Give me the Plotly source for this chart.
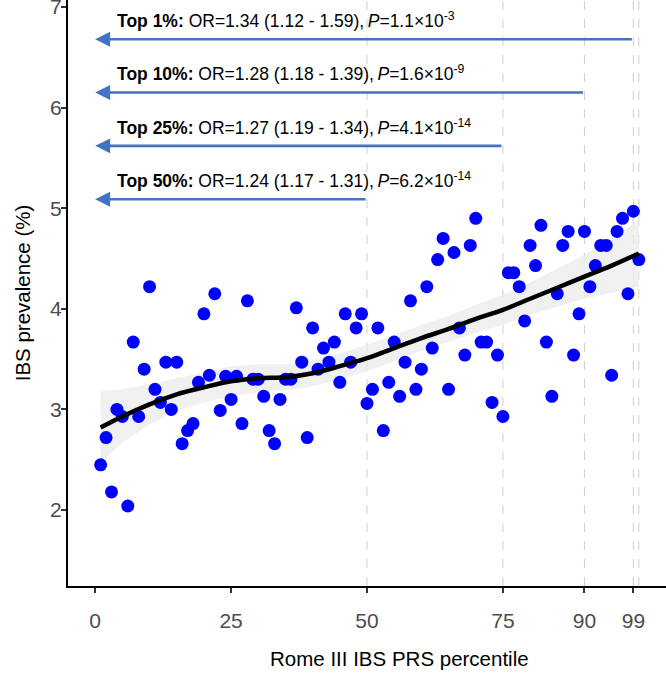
import plotly.graph_objects as go

# ---- data ----
percentile = list(range(1, 101))
prevalence = [
    2.45, 2.72, 2.18, 3.00, 2.93, 2.04, 3.67, 2.93, 3.40, 4.22,
    3.20, 3.07, 3.47, 3.00, 3.47, 2.66, 2.79, 2.86, 3.27, 3.95,
    3.34, 4.15, 2.99, 3.33, 3.10, 3.33, 2.86, 4.08, 3.30, 3.30,
    3.13, 2.79, 2.66, 3.10, 3.30, 3.30, 4.01, 3.47, 2.72, 3.81,
    3.40, 3.61, 3.47, 3.67, 3.27, 3.95, 3.47, 3.81, 3.95, 3.06,
    3.20, 3.81, 2.79, 3.27, 3.67, 3.13, 3.47, 4.08, 3.20, 3.40,
    4.22, 3.61, 4.49, 4.70, 3.20, 4.56, 3.81, 3.54, 4.63, 4.90,
    3.67, 3.67, 3.07, 3.54, 2.93, 4.36, 4.36, 4.22, 3.88, 4.63,
    4.43, 4.83, 3.67, 3.13, 4.15, 4.63, 4.77, 3.54, 3.95, 4.77,
    4.22, 4.43, 4.63, 4.63, 3.34, 4.77, 4.90, 4.15, 4.97, 4.49,
]

smooth_x = [1, 5, 10, 15, 20, 25, 30, 35, 40, 45, 50, 55, 60, 65, 70, 75, 80, 85, 90, 95, 100]
smooth_y = [2.82, 2.93, 3.05, 3.15, 3.22, 3.28, 3.31, 3.32, 3.36, 3.43, 3.51, 3.61, 3.71,
            3.80, 3.90, 3.99, 4.10, 4.21, 4.32, 4.43, 4.55]
smooth_lo = [2.47, 2.67, 2.85, 2.99, 3.07, 3.13, 3.17, 3.19, 3.23, 3.30, 3.38, 3.48, 3.58,
             3.67, 3.76, 3.84, 3.94, 4.02, 4.10, 4.16, 4.22]
smooth_hi = [3.18, 3.20, 3.25, 3.31, 3.37, 3.43, 3.45, 3.45, 3.49, 3.56, 3.64, 3.74, 3.84,
             3.93, 4.04, 4.14, 4.26, 4.40, 4.54, 4.70, 4.88]

group_labels = ["Top 1%:", "Top 10%:", "Top 25%:", "Top 50%:"]
group_stats = ["OR=1.34 (1.12 - 1.59)", "OR=1.28 (1.18 - 1.39)",
               "OR=1.27 (1.19 - 1.34)", "OR=1.24 (1.17 - 1.31)"]
group_p_mant = ["1.1", "1.6", "4.1", "6.2"]
group_p_exp = ["-3", "-9", "-14", "-14"]
group_start = [99, 90, 75, 50]
arrow_y = [6.68, 6.15, 5.62, 5.09]
label_y = [6.87, 6.34, 5.81, 5.28]

cut_lines = [50, 75, 90, 99, 100]
x_ticks = [0, 25, 50, 75, 90, 99]
y_ticks = [2, 3, 4, 5, 6, 7]

FONT = "Liberation Sans, Arial, sans-serif"

fig = go.Figure()

# confidence band
fig.add_trace(go.Scatter(x=smooth_x + smooth_x[::-1], y=smooth_hi + smooth_lo[::-1],
                         fill="toself", fillcolor="rgba(235,235,235,0.75)",
                         line=dict(width=0), mode="lines", hoverinfo="skip", showlegend=False))
# points
fig.add_trace(go.Scatter(x=percentile, y=prevalence, mode="markers",
                         marker=dict(color="#0000FF", size=13, line=dict(width=0)),
                         showlegend=False))
# smooth line
fig.add_trace(go.Scatter(x=smooth_x, y=smooth_y, mode="lines",
                         line=dict(color="black", width=4.5, shape="spline"),
                         showlegend=False))

for xv in cut_lines:
    fig.add_shape(type="line", x0=xv, x1=xv, xref="x", y0=0, y1=1, yref="paper",
                  line=dict(color="#CFCFCF", width=1, dash="dash"), layer="below")

for lab, st, pm, pe, xs, ay, ly in zip(group_labels, group_stats, group_p_mant, group_p_exp,
                                      group_start, arrow_y, label_y):
    fig.add_annotation(x=0, y=ay, ax=xs, ay=ay, xref="x", yref="y", axref="x", ayref="y",
                       text="", showarrow=True, arrowhead=2, arrowsize=1.15, arrowwidth=2.6,
                       arrowcolor="#4472C4", standoff=0, startstandoff=0)
    fig.add_annotation(x=3.6, y=ly, xref="x", yref="y", xanchor="left", yanchor="middle",
                       text=f"<b>{lab}</b> {st},\u2009<i>P</i>={pm}×10<sup>{pe}</sup>",
                       showarrow=False, font=dict(family=FONT, size=17.5, color="black"))

# x-axis title (placed as in the reference, centred on the original, wider panel)
fig.add_annotation(x=0.555, y=-0.1229, xref="paper", yref="paper", xanchor="center",
                   yanchor="middle", showarrow=False, text="Rome III IBS PRS percentile",
                   font=dict(family=FONT, size=20.5, color="black"))

fig.update_layout(
    width=666, height=676,
    margin=dict(l=68, r=0, t=0, b=90, autoexpand=False),
    plot_bgcolor="white", paper_bgcolor="white",
    font=dict(family=FONT),
    xaxis=dict(range=[-5, 105], tickvals=x_ticks, showgrid=False, zeroline=False,
               automargin=False, ticklabeloverflow="allow", ticklabelstandoff=10,
               showline=True, linecolor="black", linewidth=2, ticks="outside", ticklen=5,
               tickcolor="#333333", tickwidth=1.5,
               tickfont=dict(family=FONT, size=21, color="#4D4D4D")),
    yaxis=dict(range=[1.245, 7.07], tickvals=y_ticks, showgrid=False, zeroline=False,
               automargin=False, ticklabeloverflow="allow", ticklabelstandoff=-5,
               showline=True, linecolor="black", linewidth=2, ticks="outside", ticklen=5,
               tickcolor="#333333", tickwidth=1.5,
               tickfont=dict(family=FONT, size=21, color="#4D4D4D"),
               title=dict(text="IBS prevalence (%)", standoff=14,
                          font=dict(family=FONT, size=20.5, color="black"))),
)

fig.write_html("out.html", post_script="document.body.style.margin='0';",
               config={"displayModeBar": False})
